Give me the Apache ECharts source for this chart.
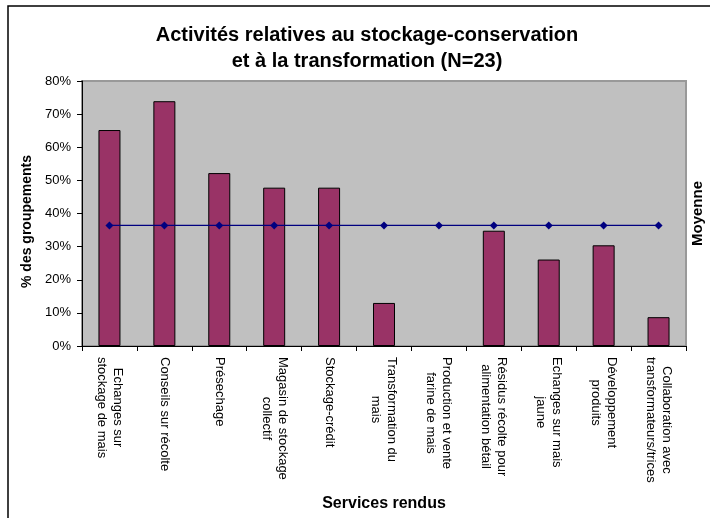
<!DOCTYPE html>
<html>
<head>
<meta charset="utf-8">
<script src="https://cdn.jsdelivr.net/npm/echarts@6/dist/echarts.min.js"></script>
<style>
html,body{margin:0;padding:0;background:#fff;}
#chart{width:710px;height:518px;}
</style>
</head>
<body>
<div id="chart"></div>
<script>
var categories = [
  "Echanges sur\nstockage de mais",
  "Conseils sur récolte",
  "Présechage",
  "Magasin de stockage\ncollectif",
  "Stockage-crédit",
  "Transformation du\nmais",
  "Production et vente\nfarine de mais",
  "Résidus récolte pour\nalimentation bétail",
  "Echanges sur mais\njaune",
  "Développement\nproduits",
  "Collaboration avec\ntransformateurs/trices"
];
var pctGroupements = [65.2, 73.9, 52.2, 47.8, 47.8, 13.0, 0, 34.8, 26.1, 30.4, 8.7];
var moyenne = [36.4, 36.4, 36.4, 36.4, 36.4, 36.4, 36.4, 36.4, 36.4, 36.4, 36.4];
var yTicks = [0, 10, 20, 30, 40, 50, 60, 70, 80];

var FONT = "'Liberation Sans', Arial, sans-serif";
var chart = echarts.init(document.getElementById('chart'), null, {renderer: 'canvas'});
chart.setOption({
  animation: false,
  backgroundColor: '#ffffff',
  textStyle: {fontFamily: FONT},
  title: {
    text: 'Activités relatives au stockage-conservation\net à la transformation (N=23)',
    left: 362,
    top: 17,
    textAlign: 'center',
    textStyle: {fontFamily: FONT, fontSize: 20, fontWeight: 'bold', color: '#000', lineHeight: 26}
  },
  graphic: [{
    type: 'rect',
    shape: {x: 8, y: 6, width: 730, height: 540},
    style: {fill: 'none', stroke: '#000', lineWidth: 1.5},
    silent: true
  }],
  grid: {
    left: 82, right: 24, top: 81, bottom: 172,
    outerBoundsMode: 'none',
    containLabel: false,
    show: true, backgroundColor: '#C0C0C0', borderColor: '#999999', borderWidth: 2
  },
  xAxis: {
    type: 'category',
    data: categories,
    name: 'Services rendus',
    nameLocation: 'middle',
    nameGap: 150,
    nameTextStyle: {fontFamily: FONT, fontSize: 16, fontWeight: 'bold', color: '#000'},
    axisLine: {lineStyle: {color: '#000', width: 1}},
    axisTick: {show: true, interval: 0, length: 5, lineStyle: {color: '#000'}},
    axisLabel: {
      interval: 0, rotate: -90, margin: 11, color: '#000',
      fontFamily: FONT, fontSize: 13, lineHeight: 16,
      formatter: function (v) {
        return v.split('\n').map(function (s) { return '{c|' + s + '}'; }).join('\n');
      },
      rich: {c: {align: 'center', fontFamily: FONT, fontSize: 13, lineHeight: 16, color: '#000'}}
    },
    splitLine: {show: false}
  },
  yAxis: [{
    type: 'value',
    min: yTicks[0], max: yTicks[yTicks.length - 1], interval: 10,
    name: '% des groupements',
    nameLocation: 'middle',
    nameRotate: 90,
    nameGap: 42,
    nameTextStyle: {fontFamily: FONT, fontSize: 14, fontWeight: 'bold', color: '#000', padding: [0, 16, 0, 0]},
    axisLine: {show: true, lineStyle: {color: '#000', width: 1}},
    axisTick: {show: true, length: 5, lineStyle: {color: '#000'}},
    axisLabel: {formatter: '{value}%', margin: 11, color: '#000', fontFamily: FONT, fontSize: 13},
    splitLine: {show: false}
  }, {
    type: 'value',
    position: 'right',
    min: 0, max: 80, interval: 10,
    name: 'Moyenne',
    nameLocation: 'middle',
    nameRotate: 90,
    nameGap: 4,
    nameTextStyle: {fontFamily: FONT, fontSize: 15, fontWeight: 'bold', color: '#000'},
    axisLine: {show: false},
    axisTick: {show: false},
    axisLabel: {show: false},
    splitLine: {show: false}
  }],
  series: [{
    type: 'bar',
    data: pctGroupements.map(function (v) {
      return v === 0 ? {value: v, itemStyle: {borderWidth: 0}} : v;
    }),
    barWidth: 22,
    itemStyle: {color: '#993366', borderColor: '#000', borderWidth: 1},
    z: 2
  }, {
    type: 'line',
    data: moyenne,
    yAxisIndex: 0,
    symbol: 'diamond',
    symbolSize: 8,
    lineStyle: {color: '#000080', width: 1.2},
    itemStyle: {color: '#000080'},
    z: 3
  }]
});
</script>
</body>
</html>
